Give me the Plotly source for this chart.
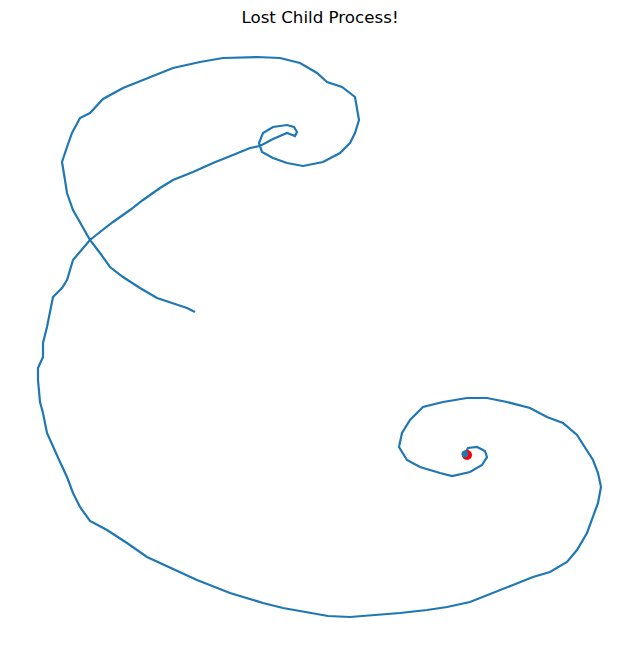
import plotly.graph_objects as go

# Path of the walk (horizontal / vertical position units)
path_x = [465, 468, 477, 485, 487, 482, 470, 452, 440, 420, 407, 399, 402, 410, 423, 443, 467, 487, 507, 530,
          547, 563, 577, 587, 593, 598, 601, 598, 593, 587, 577, 567, 550, 533, 513, 493, 470, 447, 427, 400,
          377, 350, 328, 307, 283, 263, 230, 197, 170, 147, 127, 107, 90, 80, 73, 67, 60, 53, 47, 43,
          40, 38, 38, 43, 43, 47, 50, 53, 62, 67, 73, 90, 100, 113, 130, 143, 160, 173, 193, 213,
          233, 250, 260, 273, 287, 295, 297, 294, 287, 273, 263, 259, 262, 273, 287, 303, 323, 340, 350, 355,
          359, 355, 342, 327, 317, 300, 280, 257, 223, 200, 173, 150, 123, 103, 90, 80, 72, 67, 62, 65,
          67, 73, 83, 90, 100, 110, 123, 140, 157, 173, 187, 195]
path_y = [454, 448, 447, 451, 457, 465, 472, 476, 473, 467, 460, 447, 433, 420, 407, 402, 398, 398, 402, 408,
          417, 423, 435, 450, 460, 473, 487, 503, 517, 533, 550, 562, 572, 577, 585, 593, 602, 607, 610, 613,
          615, 617, 616, 612, 608, 603, 593, 580, 568, 557, 543, 530, 521, 507, 493, 477, 462, 447, 433, 413,
          402, 380, 368, 357, 343, 327, 313, 297, 288, 280, 260, 240, 232, 222, 210, 200, 188, 180, 172, 163,
          155, 148, 146, 139, 133, 136, 132, 127, 125, 127, 133, 143, 152, 158, 163, 166, 162, 153, 143, 133,
          120, 97, 87, 82, 73, 63, 58, 57, 58, 62, 68, 77, 88, 99, 113, 118, 133, 147, 162, 180,
          193, 210, 227, 240, 253, 267, 277, 288, 298, 303, 308, 312]

start_x = [465]
start_y = [454]
end_x = [467]
end_y = [455]

fig = go.Figure()
fig.add_trace(go.Scatter(x=path_x, y=path_y, mode="lines",
                         line=dict(color="#1f77b4", width=2.2), hoverinfo="skip"))
fig.add_trace(go.Scatter(x=end_x, y=end_y, mode="markers",
                         marker=dict(color="red", size=10, line=dict(width=0))))
fig.add_trace(go.Scatter(x=start_x, y=start_y, mode="markers",
                         marker=dict(color="#1f77b4", size=7, line=dict(width=0))))

fig.update_layout(
    width=640, height=656,
    margin=dict(l=0, r=0, t=0, b=0),
    paper_bgcolor="white", plot_bgcolor="white",
    showlegend=False,
    title=dict(text="Lost Child Process!", x=0.5, xanchor="center", y=1 - 17 / 656, yanchor="middle",
               font=dict(family="DejaVu Sans", size=16.7, color="black")),
    xaxis=dict(range=[0, 640], visible=False, fixedrange=True),
    yaxis=dict(range=[656, 0], visible=False, fixedrange=True),
)

fig.write_html("out.html",
               config={"displayModeBar": False},
               post_script="document.body.style.margin='0';document.body.style.overflow='hidden';")
